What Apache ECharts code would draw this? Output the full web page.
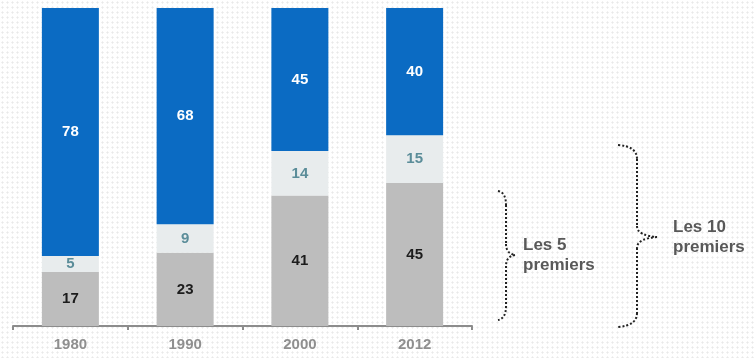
<!DOCTYPE html>
<html>
<head>
<meta charset="utf-8">
<script src="https://cdn.jsdelivr.net/npm/echarts@6/dist/echarts.min.js"></script>
<style>
  html, body { margin: 0; padding: 0; }
  body {
    width: 755px; height: 358px;
    background-color: #ffffff;
    background-image: radial-gradient(circle, #e9e9e9 0.9px, rgba(255,255,255,0) 1.2px);
    background-size: 5px 5px;
  }
  #chart { width: 755px; height: 358px; }
</style>
</head>
<body>
<div id="chart"></div>
<script>
// Share (%) held by the top producers, per year
const years = ['1980', '1990', '2000', '2012'];
const top5 = [17, 23, 41, 45];
const next5 = [5, 9, 14, 15];
const others = [78, 68, 45, 40];

const FONT = '"Liberation Sans", Arial, sans-serif';

const chart = echarts.init(document.getElementById('chart'), null, { renderer: 'canvas' });

function segment(name, values, color, labelColor) {
  return {
    name: name,
    type: 'bar',
    stack: 'total',
    data: values,
    barWidth: 57,
    itemStyle: { color: color },
    label: {
      show: true,
      position: 'inside',
      color: labelColor,
      fontFamily: FONT,
      fontWeight: 'bold',
      fontSize: 15
    },
    emphasis: { disabled: true }
  };
}

// Curly braces drawn with a dotted stroke, built from curve and line pieces
const braceStyle = { stroke: '#222', lineWidth: 2, lineDash: [2, 2], fill: null };

function curve(x1, y1, cx1, cy1, cx2, cy2, x2, y2) {
  return {
    type: 'bezierCurve',
    shape: { x1: x1, y1: y1, cpx1: cx1, cpy1: cy1, cpx2: cx2, cpy2: cy2, x2: x2, y2: y2 },
    style: braceStyle,
    silent: true
  };
}
function straight(x1, y1, x2, y2) {
  return {
    type: 'line',
    shape: { x1: x1, y1: y1, x2: x2, y2: y2 },
    style: braceStyle,
    silent: true
  };
}
function brace(xEdge, xBar, xTip, yTop, yTip, yBot) {
  return [
    curve(xEdge, yTop, xEdge + 0.7 * (xBar - xEdge), yTop + 1, xBar, yTop + 6, xBar, yTop + 14),
    straight(xBar, yTop + 14, xBar, yTip - 11),
    curve(xBar, yTip - 11, xBar, yTip - 4, xBar + 0.4 * (xTip - xBar), yTip - 1, xTip, yTip),
    curve(xTip, yTip, xBar + 0.4 * (xTip - xBar), yTip + 1, xBar, yTip + 4, xBar, yTip + 11),
    straight(xBar, yTip + 11, xBar, yBot - 14),
    curve(xBar, yBot - 14, xBar, yBot - 6, xEdge + 0.7 * (xBar - xEdge), yBot - 1, xEdge, yBot)
  ];
}

chart.setOption({
  animation: false,
  backgroundColor: 'transparent',
  grid: { left: 13, right: 283, top: 8, bottom: 32 },
  xAxis: {
    type: 'category',
    data: years,
    boundaryGap: true,
    axisLine: { show: true, lineStyle: { color: '#8c8c8c', width: 2 } },
    axisTick: { show: true, length: 4, lineStyle: { color: '#8c8c8c', width: 2 } },
    axisLabel: {
      color: '#8f8f8f',
      fontFamily: FONT,
      fontWeight: 'bold',
      fontSize: 15,
      margin: 11
    }
  },
  yAxis: {
    type: 'value',
    min: 0,
    max: 100,
    show: false
  },
  series: [
    segment('Les 5 premiers', top5, '#bdbdbd', '#1c1c1c'),
    segment('Les 5 suivants', next5, '#e8eced', '#5b8d99'),
    segment('Autres', others, '#0b6bc3', '#ffffff')
  ],
  graphic: [].concat(
    brace(498, 506, 515, 191, 255, 320),
    brace(618, 637, 657, 145, 237, 327),
    [
      {
        type: 'text',
        left: 523,
        top: 235,
        style: {
          text: 'Les 5\npremiers',
          fill: '#595959',
          font: 'bold 17px ' + FONT,
          lineHeight: 20
        },
        silent: true
      },
      {
        type: 'text',
        left: 673,
        top: 217,
        style: {
          text: 'Les 10\npremiers',
          fill: '#595959',
          font: 'bold 17px ' + FONT,
          lineHeight: 20
        },
        silent: true
      }
    ]
  )
});
</script>
</body>
</html>
